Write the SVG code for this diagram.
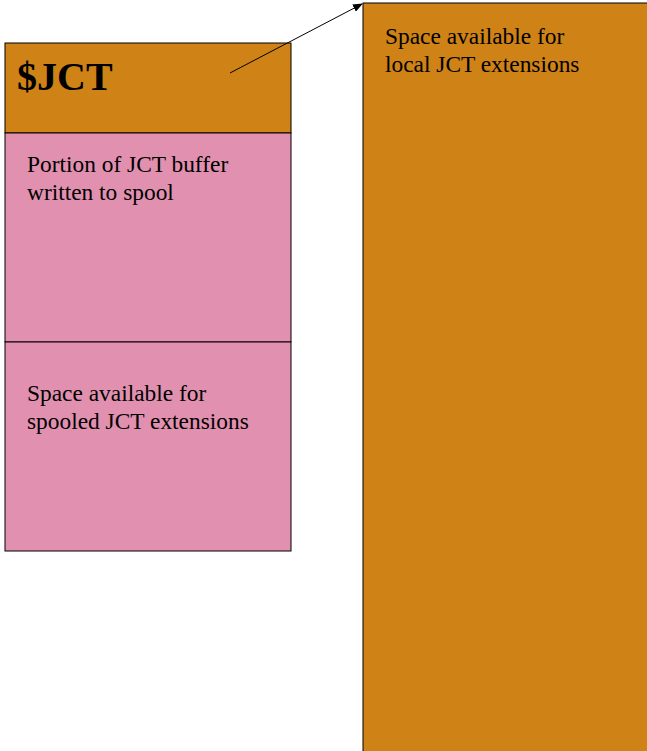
<svg xmlns="http://www.w3.org/2000/svg" width="647" height="751" viewBox="0 0 647 751">
<style>
.box{stroke:#000;stroke-width:1}
.orange{fill:#CF8215}
.pink{fill:#E290B0}
.t{font-family:"Liberation Serif",serif;font-size:23.4px;fill:#000}
.big{font-family:"Liberation Serif",serif;font-size:40px;font-weight:bold;fill:#000}
</style>
<defs>
<marker id="ah" markerWidth="10" markerHeight="8" refX="9" refY="4" orient="auto" markerUnits="userSpaceOnUse">
<path d="M0,0 L10,4 L0,8 z" fill="#000"/>
</marker>
</defs>
<g id="jct">
<rect class="box orange" x="5" y="43" width="286" height="90"/>
<text class="big" x="17" y="90">$JCT</text>
</g>
<g id="portion">
<rect class="box pink" x="5" y="133" width="286" height="209"/>
<text class="t" x="27" y="172">Portion of JCT buffer</text>
<text class="t" x="27" y="200">written to spool</text>
</g>
<g id="spooled">
<rect class="box pink" x="5" y="342" width="286" height="209"/>
<text class="t" x="27" y="401">Space available for</text>
<text class="t" x="27" y="429">spooled JCT extensions</text>
</g>
<g id="local">
<rect class="box orange" x="363" y="3" width="300" height="760"/>
<text class="t" x="385" y="44">Space available for</text>
<text class="t" x="385" y="72">local JCT extensions</text>
</g>
<g id="connectors">
<line x1="230" y1="73" x2="362" y2="4" stroke="#000" stroke-width="1" marker-end="url(#ah)"/>
</g>
</svg>
